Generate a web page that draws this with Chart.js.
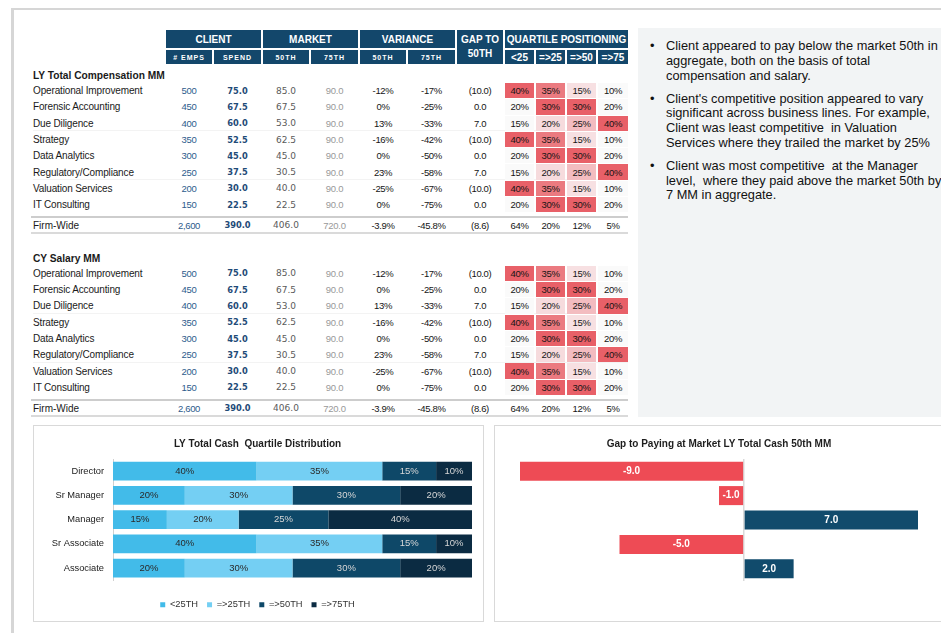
<!DOCTYPE html>
<html>
<head>
<meta charset="utf-8">
<script src="https://cdn.jsdelivr.net/npm/chart.js@4.4.0/dist/chart.umd.min.js"></script>
<style>
  html, body { margin: 0; padding: 0; }
  body { width: 941px; height: 633px; overflow: hidden; position: relative; background: #fff;
         font-family: "Liberation Sans", Arial, sans-serif; color: #1a1a1a; }
  #frame { position: absolute; left: 11px; top: 8px; width: 960px; height: 660px;
           border-top: 2px solid #d6d6d6; border-left: 3px solid #d6d6d6; }
  #tables { position: absolute; left: 33px; top: 30px; width: 595px; }
  .grid, .row { display: grid; column-gap: 2px;
    grid-template-columns: 131px 46px 47px 46px 47px 46px 47px 46px 29px 29px 29px 30px; }
  .hdr { grid-template-rows: 18px 14px; row-gap: 2px; }
  .hdr > div { background: #13476b; color: #fff; font-weight: bold; font-size: 10px; white-space: nowrap;
               display: flex; align-items: center; justify-content: center; text-align: center; }
  .hdr > .sub { font-size: 7px; letter-spacing: 1px; }
  .sect { font-weight: bold; font-size: 10.2px; line-height: 14px; box-sizing: border-box; }
  .row { height: 16.3px; box-sizing: border-box; }
  .row.sep { box-shadow: inset 0 -1px 0 #f3f3f3; }
  .row > div { display: flex; align-items: center; justify-content: center; white-space: nowrap;
               font-size: 9.5px; letter-spacing: -0.35px; margin: 0.5px 0; color: #151515; }
  .row > .lbl { justify-content: flex-start; font-size: 10px; letter-spacing: -0.15px; color: #1a1a1a; }
  .row > .emp { color: #2d5b8c; }
  .row > .spd { font-family: "DejaVu Sans", sans-serif; font-weight: bold; font-size: 8.3px;
                letter-spacing: 0; color: #1f4b78; }
  .row > .m50 { font-family: "DejaVu Sans", sans-serif; font-size: 9px; letter-spacing: 0; color: #5a5a5a; }
  .row > .m75 { color: #999; font-size: 9.5px; letter-spacing: -0.3px; }
  .row.firm { height: 18px; margin-top: 3.5px; margin-left: -2px; padding-left: 2px;
              border-top: 2px solid #cdcdcd; border-bottom: 2px solid #dadada; }
  .row.firm > .lbl { letter-spacing: 0; }
  #notes { position: absolute; left: 638px; top: 28px; width: 303px; height: 389px; background: #f2f4f5; }
  #notes ul { list-style: none; margin: 0; padding: 11.3px 0 0 0; font-size: 12.8px; line-height: 14.7px; color: #111; }
  #notes li { position: relative; padding-left: 28px; margin-bottom: 8.3px; white-space: nowrap; }
  #notes li::before { content: "\2022"; position: absolute; left: 12px; top: 0; }
  .card { position: absolute; top: 425px; height: 197px; box-sizing: border-box;
          border: 1px solid #d9d9d9; background: #fff; }
  #cardLeft { left: 33px; width: 451px; }
  #cardRight { left: 494px; width: 452px; }
  .card canvas { display: block; }
</style>
</head>
<body>
<div id="frame"></div>
<div id="tables"></div>
<div id="notes">
  <ul>
    <li>Client appeared to pay below the market 50th in<br>aggregate, both on the basis of total<br>compensation and salary.</li>
    <li>Client's competitive position appeared to vary<br>significant across business lines. For example,<br>Client was least competitive&nbsp; in Valuation<br>Services where they trailed the market by 25%</li>
    <li>Client was most competitive&nbsp; at the Manager<br>level,&nbsp; where they paid above the market 50th by<br>7 MM in aggregate.</li>
  </ul>
</div>
<div class="card" id="cardLeft"><canvas id="quartileChart"></canvas></div>
<div class="card" id="cardRight"><canvas id="gapChart"></canvas></div>

<script>
// table data
const sectionTitles = ["LY Total Compensation MM", "CY Salary MM"];
const businessLines = ["Operational Improvement", "Forensic Accounting", "Due Diligence", "Strategy",
  "Data Analytics", "Regulatory/Compliance", "Valuation Services", "IT Consulting"];
const employees = [500, 450, 400, 350, 300, 250, 200, 150];
const spend = [75.0, 67.5, 60.0, 52.5, 45.0, 37.5, 30.0, 22.5];
const market50 = [85.0, 67.5, 53.0, 62.5, 45.0, 30.5, 40.0, 22.5];
const market75 = [90.0, 90.0, 90.0, 90.0, 90.0, 90.0, 90.0, 90.0];
const variance50 = [-12, 0, 13, -16, 0, 23, -25, 0];
const variance75 = [-17, -25, -33, -42, -50, -58, -67, -75];
const gapTo50 = [-10.0, 0.0, 7.0, -10.0, 0.0, 7.0, -10.0, 0.0];
const quartBelow25 = [40, 20, 15, 40, 20, 15, 40, 20];
const quartAt25 = [35, 30, 20, 35, 30, 20, 35, 30];
const quartAt50 = [15, 30, 25, 15, 30, 25, 15, 30];
const quartAt75 = [10, 20, 40, 10, 20, 40, 10, 20];

// firm-wide totals
const firmEmployees = 2600;
const firmSpend = 390.0;
const firmMarket50 = 406.0;
const firmMarket75 = 720.0;
const firmVariance50 = -3.9;
const firmVariance75 = -45.8;
const firmGap = -8.6;
const firmQuartiles = [64, 20, 12, 5];

// chart data
const levels = ["Director", "Sr Manager", "Manager", "Sr Associate", "Associate"];
const quartileLabels = ["<25TH", "=>25TH", "=>50TH", "=>75TH"];
const levelBelow25 = [40, 20, 15, 40, 20];
const levelAt25 = [35, 30, 20, 35, 30];
const levelAt50 = [15, 30, 25, 15, 30];
const levelAt75 = [10, 20, 40, 10, 20];
const gapToMarket = [-9.0, -1.0, 7.0, -5.0, 2.0];

const FONT = '"Liberation Sans", Arial, sans-serif';

const fmtGap = v => v < 0 ? `(${Math.abs(v).toFixed(1)})` : v.toFixed(1);

function heatColor(v, rowVals) {
  const lo = Math.min(...rowVals), hi = Math.max(...rowVals);
  const t = hi === lo ? 0 : (v - lo) / (hi - lo);
  const from = [250, 250, 250], to = [232, 96, 104];
  const c = from.map((f, k) => Math.round(f + (to[k] - f) * t));
  return `rgb(${c.join(",")})`;
}

function buildSection(title, blockHeight, padTop) {
  let html = `<div class="sect" style="height:${blockHeight}px;padding-top:${padTop}px">${title}</div>`;
  businessLines.forEach((name, i) => {
    const q = [quartBelow25[i], quartAt25[i], quartAt50[i], quartAt75[i]];
    html += `<div class="row${i === 2 || i === 5 ? " sep" : ""}">
      <div class="lbl">${name}</div>
      <div class="emp">${employees[i]}</div>
      <div class="spd">${spend[i].toFixed(1)}</div>
      <div class="m50">${market50[i].toFixed(1)}</div>
      <div class="m75">${market75[i].toFixed(1)}</div>
      <div>${variance50[i]}%</div>
      <div>${variance75[i]}%</div>
      <div>${fmtGap(gapTo50[i])}</div>
      ${q.map(v => `<div style="background:${heatColor(v, q)}">${v}%</div>`).join("")}
    </div>`;
  });
  html += `<div class="row firm">
      <div class="lbl">Firm-Wide</div>
      <div class="emp">${firmEmployees.toLocaleString("en-US")}</div>
      <div class="spd">${firmSpend.toFixed(1)}</div>
      <div class="m50">${firmMarket50.toFixed(1)}</div>
      <div class="m75">${firmMarket75.toFixed(1)}</div>
      <div>${firmVariance50.toFixed(1)}%</div>
      <div>${firmVariance75.toFixed(1)}%</div>
      <div>${fmtGap(firmGap)}</div>
      ${firmQuartiles.map(v => `<div>${v}%</div>`).join("")}
    </div>`;
  return html;
}

const header = `<div class="grid hdr">
  <div style="grid-column:2/span 2;grid-row:1">CLIENT</div>
  <div style="grid-column:4/span 2;grid-row:1">MARKET</div>
  <div style="grid-column:6/span 2;grid-row:1">VARIANCE</div>
  <div style="grid-column:8;grid-row:1/span 2;line-height:14px">GAP TO<br>50TH</div>
  <div style="grid-column:9/span 4;grid-row:1">QUARTILE POSITIONING</div>
  <div class="sub" style="grid-column:2;grid-row:2"># EMPS</div>
  <div class="sub" style="grid-column:3;grid-row:2">SPEND</div>
  <div class="sub" style="grid-column:4;grid-row:2">50TH</div>
  <div class="sub" style="grid-column:5;grid-row:2">75TH</div>
  <div class="sub" style="grid-column:6;grid-row:2">50TH</div>
  <div class="sub" style="grid-column:7;grid-row:2">75TH</div>
  <div style="grid-column:9;grid-row:2">&lt;25</div>
  <div style="grid-column:10;grid-row:2">=&gt;25</div>
  <div style="grid-column:11;grid-row:2">=&gt;50</div>
  <div style="grid-column:12;grid-row:2">=&gt;75</div>
</div>`;

document.getElementById("tables").innerHTML =
  header + buildSection(sectionTitles[0], 18.5, 5) + buildSection(sectionTitles[1], 30.8, 18.1);

// labels drawn in the middle of each bar
function barLabels(format, colorFor, font) {
  return {
    id: "barLabels",
    afterDatasetsDraw(chart) {
      const ctx = chart.ctx;
      ctx.save();
      ctx.font = font;
      ctx.textAlign = "center";
      ctx.textBaseline = "middle";
      chart.data.datasets.forEach((ds, i) => {
        chart.getDatasetMeta(i).data.forEach((bar, j) => {
          const v = ds.data[j];
          ctx.fillStyle = colorFor(i, v);
          ctx.fillText(format(v), (bar.x + bar.base) / 2, bar.y);
        });
      });
      ctx.restore();
    }
  };
}

Chart.defaults.font.family = FONT;
Chart.defaults.animation = false;

const quartileColors = ["#42bbe9", "#74cff3", "#0e4868", "#0b2b42"];

new Chart(document.getElementById("quartileChart"), {
  type: "bar",
  data: {
    labels: levels,
    datasets: [levelBelow25, levelAt25, levelAt50, levelAt75].map((d, i) => ({
      label: quartileLabels[i],
      data: d,
      backgroundColor: quartileColors[i],
      barPercentage: 0.78,
      categoryPercentage: 1
    }))
  },
  options: {
    indexAxis: "y",
    responsive: true,
    maintainAspectRatio: false,
    layout: { padding: { left: 9, right: 11, top: 0, bottom: 1.5 } },
    scales: {
      x: {
        stacked: true, min: 0, max: 100,
        ticks: { display: false },
        grid: { display: false, drawTicks: false },
        border: { display: false },
        afterFit: s => { s.height = 11; }
      },
      y: {
        stacked: true,
        ticks: { color: "#222", font: { size: 9.3 }, padding: 9 },
        grid: { display: false, drawTicks: false },
        border: { color: "#d0d0d0" },
        afterFit: s => { s.width = 70; }
      }
    },
    plugins: {
      title: {
        display: true,
        text: "LY Total Cash  Quartile Distribution",
        color: "#1e1e1e",
        font: { size: 10, weight: "bold" },
        padding: { top: 12, bottom: 9 }
      },
      legend: {
        position: "bottom",
        labels: { boxWidth: 5, boxHeight: 5, color: "#333", font: { size: 9.3 }, padding: 9 }
      },
      tooltip: { enabled: false }
    }
  },
  plugins: [barLabels(v => v + "%", i => i < 2 ? "#2a2a2a" : "#d6d6d6", "9.5px " + FONT)]
});

new Chart(document.getElementById("gapChart"), {
  type: "bar",
  data: {
    labels: levels,
    datasets: [{
      label: "Gap to 50th",
      data: gapToMarket,
      backgroundColor: gapToMarket.map(v => v < 0 ? "#ee4b55" : "#114b6c"),
      barPercentage: 0.78,
      categoryPercentage: 1
    }]
  },
  options: {
    indexAxis: "y",
    responsive: true,
    maintainAspectRatio: false,
    layout: { padding: { left: 25, right: 27, top: 0, bottom: 40 } },
    scales: {
      x: {
        min: -9, max: 7,
        ticks: { display: false },
        grid: {
          drawTicks: false,
          lineWidth: 1.5,
          color: c => (c.tick && c.tick.value === 0) ? "#d9d9d9" : "rgba(0,0,0,0)"
        },
        border: { display: false },
        afterFit: s => { s.height = 0; }
      },
      y: { display: false }
    },
    plugins: {
      title: {
        display: true,
        text: "Gap to Paying at Market LY Total Cash 50th MM",
        color: "#1e1e1e",
        font: { size: 10, weight: "bold" },
        padding: { top: 12, bottom: 9 }
      },
      legend: { display: false },
      tooltip: { enabled: false }
    }
  },
  plugins: [barLabels(v => v.toFixed(1), () => "#ffffff", "bold 10px " + FONT)]
});
</script>
</body>
</html>
